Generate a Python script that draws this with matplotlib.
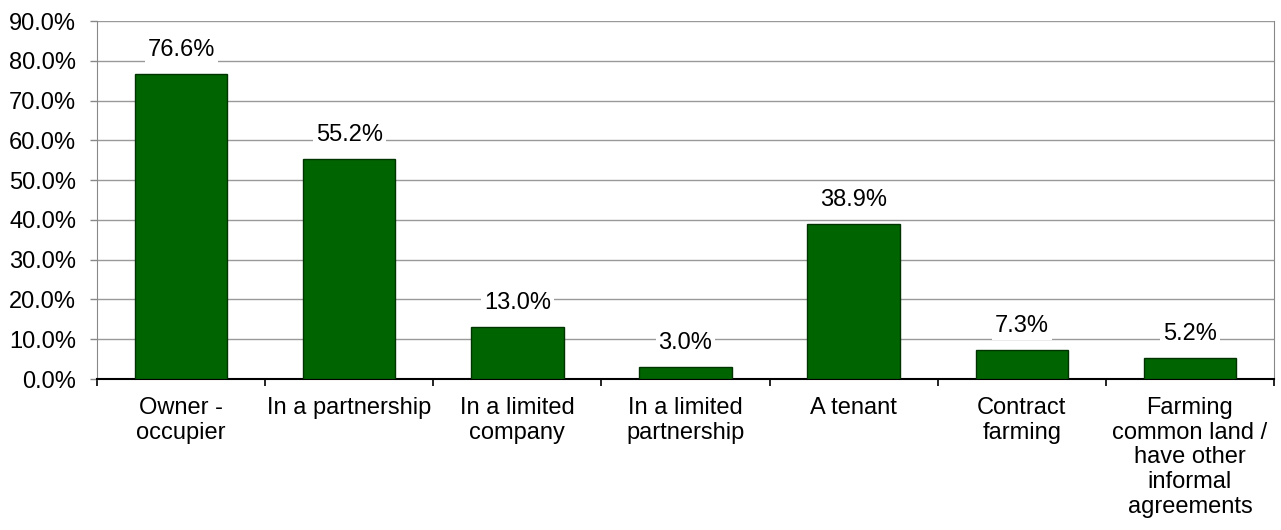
import matplotlib
matplotlib.use("Agg")
import matplotlib.pyplot as plt
from matplotlib.ticker import FuncFormatter, MultipleLocator

categories = [
    "Owner -\noccupier",
    "In a partnership",
    "In a limited\ncompany",
    "In a limited\npartnership",
    "A tenant",
    "Contract\nfarming",
    "Farming\ncommon land /\nhave other\ninformal\nagreements",
]
values = [76.6, 55.2, 13.0, 3.0, 38.9, 7.3, 5.2]

plt.rcParams["font.family"] = ["Liberation Sans", "DejaVu Sans"]
FS = 17

fig = plt.figure(figsize=(12.81, 5.30), dpi=100)
ax = fig.add_axes([97 / 1281, 1 - 379 / 530, (1274 - 97) / 1281, (379 - 21) / 530])

x = list(range(len(categories)))
ax.bar(x, values, width=0.55, color="#006400", edgecolor="#003300", linewidth=1.0, zorder=3)

ax.set_xlim(-0.5, len(categories) - 0.5)
ax.set_ylim(0, 90)
ax.yaxis.set_major_locator(MultipleLocator(10))
ax.yaxis.set_major_formatter(FuncFormatter(lambda v, p: f"{v:.1f}%"))
ax.grid(axis="y", color="#999999", linewidth=1.0, zorder=0)
ax.set_axisbelow(True)

ax.set_xticks(x)
ax.set_xticklabels(categories, fontsize=FS, linespacing=1.16)
ax.set_xticks([i + 0.5 for i in range(-1, len(categories))], minor=True)
ax.tick_params(axis="x", which="major", length=0, pad=13)
ax.tick_params(axis="x", which="minor", length=5, width=1.2, color="black", direction="out")
ax.tick_params(axis="y", length=5, width=1.0, color="#888888", labelsize=FS, pad=10)

ax.spines["top"].set_visible(False)
ax.spines["left"].set_color("#888888")
ax.spines["right"].set_color("#888888")
ax.spines["bottom"].set_color("black")
ax.spines["bottom"].set_linewidth(1.5)

for xi, v in zip(x, values):
    ax.annotate(f"{v:.1f}%", xy=(xi, v), xytext=(0, 24), textcoords="offset pixels",
                ha="center", va="center", fontsize=FS, zorder=4,
                bbox=dict(boxstyle="square,pad=0.12", facecolor="white", edgecolor="none"))

fig.savefig("out.png", dpi=100)
